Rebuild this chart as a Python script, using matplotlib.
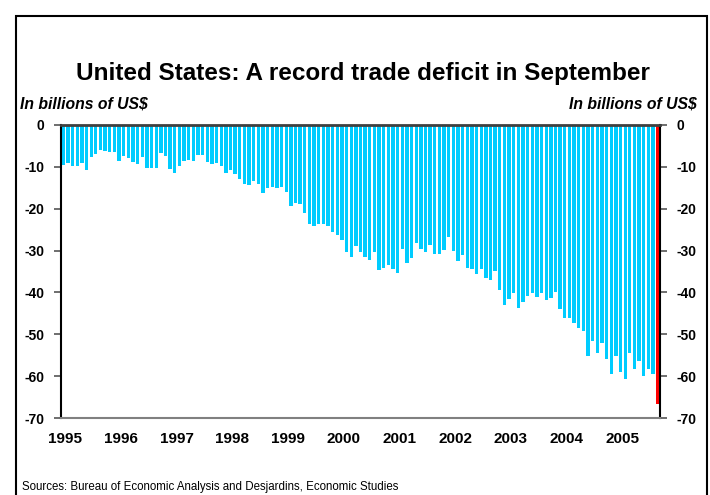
import matplotlib
matplotlib.use("Agg")
import matplotlib.pyplot as plt
from matplotlib.patches import Rectangle

plt.rcParams['font.family'] = ['Liberation Sans', 'DejaVu Sans']
plt.rcParams['axes.unicode_minus'] = False

# Monthly US trade balance, Jan 1995 - Sep 2005 (billions of US$)
vals_1995 = [-9.5, -9.1, -9.7, -9.7, -9.0, -10.7, -7.6, -6.9, -6.0, -6.2, -6.4, -6.4]
vals_1996 = [-8.5, -7.3, -7.8, -8.9, -9.3, -7.6, -10.2, -10.2, -10.2, -6.6, -7.3, -10.5]
vals_1997 = [-11.4, -9.7, -8.5, -8.4, -8.5, -7.1, -7.1, -8.8, -9.3, -9.0, -9.7, -11.4]
vals_1998 = [-10.7, -11.7, -12.9, -14.1, -14.3, -13.3, -14.1, -16.2, -15.0, -14.8, -15.0, -14.8]
vals_1999 = [-16.0, -19.3, -18.6, -18.8, -21.0, -23.6, -24.1, -23.6, -23.6, -24.1, -25.6, -26.3]
vals_2000 = [-27.5, -30.4, -31.6, -29.0, -30.4, -31.6, -32.3, -30.4, -34.7, -34.2, -33.5, -34.4]
vals_2001 = [-35.4, -29.7, -33.0, -31.8, -28.2, -29.7, -30.4, -28.7, -30.8, -30.8, -29.9, -26.8]
vals_2002 = [-30.1, -32.5, -31.1, -34.2, -34.4, -35.7, -34.4, -36.6, -37.1, -34.9, -39.5, -43.1]
vals_2003 = [-41.6, -40.2, -43.8, -42.4, -40.9, -40.2, -41.2, -40.2, -41.9, -41.4, -39.8, -44.0]
vals_2004 = [-46.2, -46.0, -47.4, -48.6, -49.1, -55.3, -51.7, -54.4, -52.2, -55.8, -59.4, -55.1]
vals_2005 = [-58.9, -60.8, -54.4, -58.2, -56.3, -59.9, -58.4, -59.6, -66.6]

values = (vals_1995 + vals_1996 + vals_1997 + vals_1998 + vals_1999 + vals_2000 +
          vals_2001 + vals_2002 + vals_2003 + vals_2004 + vals_2005)
years = ['1995', '1996', '1997', '1998', '1999', '2000', '2001', '2002', '2003', '2004', '2005']
yticks = [0, -10, -20, -30, -40, -50, -60, -70]

title = "United States: A record trade deficit in September"
unit_label = "In billions of US$"
source = "Sources: Bureau of Economic Analysis and Desjardins, Economic Studies"

W, H = 710, 495
fig = plt.figure(figsize=(W / 100, H / 100), dpi=100)

# outer frame
fig.patches.append(Rectangle((16 / W, -0.05), (707 - 16) / W, 1.05 - 16 / H,
                             transform=fig.transFigure, fill=False,
                             edgecolor='black', linewidth=1.5))

left, right, top, bottom = 61, 660, 125, 418
ax = fig.add_axes([left / W, 1 - bottom / H, (right - left) / W, (bottom - top) / H])

x = list(range(len(values)))
colors = ['#00CCFF'] * (len(values) - 1) + ['#FF0000']
ax.bar(x, values, width=0.72, color=colors, zorder=2)

ax.set_xlim(-0.5, len(values) - 0.5)
ax.set_ylim(-70, 0)

ax.set_yticks(yticks)
ax.set_yticklabels([str(v) for v in yticks])
ax.tick_params(axis='y', direction='out', length=5, width=1.2, color='#555555',
               labelsize=10, pad=7, left=True, right=True,
               labelleft=True, labelright=True)
for lab in ax.get_yticklabels():
    lab.set_fontweight('bold')

ax.set_xticks([12 * i + 0.4 for i in range(len(years))])
ax.set_xticklabels(years)
ax.tick_params(axis='x', length=0, labelsize=11, pad=10)
for lab in ax.get_xticklabels():
    lab.set_fontweight('bold')

ax.spines['top'].set_color('#404040')
ax.spines['top'].set_linewidth(2)
ax.spines['top'].set_zorder(3)
ax.spines['bottom'].set_color('#808080')
ax.spines['bottom'].set_linewidth(1.5)
ax.spines['left'].set_color('black')
ax.spines['left'].set_linewidth(1.5)
ax.spines['right'].set_color('black')
ax.spines['right'].set_linewidth(1.5)

fig.text(363 / W, 1 - 73 / H, title, ha='center', va='center',
         fontsize=17.5, fontweight='bold')
fig.text(20 / W, 1 - 104 / H, unit_label, ha='left', va='center',
         fontsize=11.3, fontweight='bold', style='italic')
fig.text(697 / W, 1 - 104 / H, unit_label, ha='right', va='center',
         fontsize=11.3, fontweight='bold', style='italic')
fig.text(22 / W, 1 - 487 / H, source, ha='left', va='center', fontsize=8.3)

fig.savefig('out.png', dpi=100)
